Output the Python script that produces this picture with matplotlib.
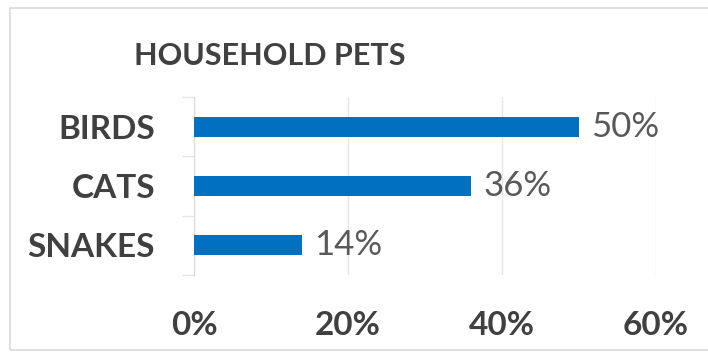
import matplotlib
matplotlib.use("Agg")
import matplotlib.pyplot as plt
from matplotlib.patches import Rectangle
from matplotlib.ticker import FixedLocator

categories = ["BIRDS", "CATS", "SNAKES"]
shares = [50, 36, 14]
tick_values = [0, 20, 40, 60]
tick_labels = ["0%", "20%", "40%", "60%"]

plt.rcParams["font.family"] = ["Lato", "DejaVu Sans"]

bar_color = "#0070C0"
dark_text = "#404040"
value_text = "#595959"
grid_color = "#E6E6E6"

fig = plt.figure(figsize=(7.08, 3.55), dpi=100)
fig.patch.set_facecolor("white")

# light chart-area border
fig.add_artist(Rectangle((10 / 708, 5 / 355), 1.0, 1 - 13 / 355,
                         transform=fig.transFigure, fill=False,
                         edgecolor="#D9D9D9", linewidth=1.2))

ax = fig.add_axes([194 / 708, (355 - 275) / 355, (656 - 194) / 708, 178 / 355])

ypos = list(range(len(categories)))[::-1]
ax.barh(ypos, shares, height=0.34, color=bar_color, zorder=3)

for y, v in zip(ypos, shares):
    ax.text(v + 1.6, y, f"{v}%", va="center", ha="left",
            fontsize=25, color=value_text)

ax.set_xlim(0, 60)
ax.set_ylim(-0.5, 2.5)
ax.set_xticks(tick_values)
ax.set_xticklabels(tick_labels, fontsize=24, fontweight="bold", color=dark_text)
ax.set_yticks(ypos)
ax.set_yticklabels(categories, fontsize=24, fontweight="bold", color=dark_text)
ax.yaxis.set_minor_locator(FixedLocator([-0.5, 0.5, 1.5, 2.5]))

ax.tick_params(axis="x", length=0, pad=26)
ax.tick_params(axis="y", which="major", length=0, pad=28)
ax.tick_params(axis="y", which="minor", length=9, color=grid_color, width=1)

ax.grid(axis="x", color=grid_color, linewidth=1, zorder=0)
for side in ["top", "right", "bottom"]:
    ax.spines[side].set_visible(False)
ax.spines["left"].set_color("#D9D9D9")

fig.text(270 / 708, 1 - 56 / 355, "HOUSEHOLD PETS", ha="center", va="center",
         fontsize=22, fontweight="bold", color=dark_text)

fig.savefig("out.png", dpi=100)
